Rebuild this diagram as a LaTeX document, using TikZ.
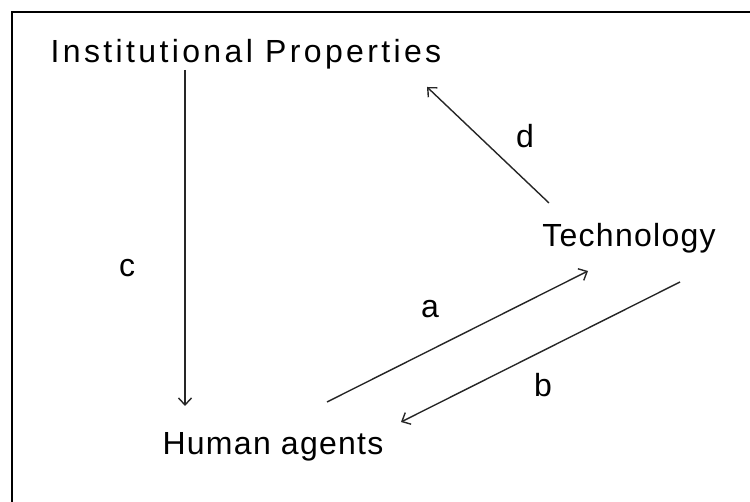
\documentclass[tikz,border=0pt]{standalone}
\usepackage{fontspec}
\usepackage{tikz}
\usetikzlibrary{calc, arrows.meta}
\newfontfamily\diagfont{Liberation Sans}[LetterSpace=4]
\newfontfamily\diagwidefont{Liberation Sans}[LetterSpace=10.5]

\begin{document}
\begin{tikzpicture}[
        x=1pt, y=1pt,
        term/.style={inner sep=0pt, anchor=base, font=\diagfont\fontsize{32}{38}\selectfont},
        wideterm/.style={term, font=\diagwidefont\fontsize{32}{38}\selectfont},
        lbl/.style={inner sep=0pt, anchor=base, font=\diagfont\fontsize{32}{38}\selectfont},
        arr/.style={-{Straight Barb[length=7pt, width=13pt]}, line width=1.4pt, draw=black!85}
    ]
    \useasboundingbox (0,0) rectangle (750,502);
    \draw[line width=2pt] (12,0) -- (12,490) -- (750,490);

    \node[wideterm] (inst) at (246,439) {Institutional Properties};
    \node[term] (tech) at (629,255) {Technology};
    \node[term] (human) at (273,47) {Human agents};

    \draw[arr] ($(inst.base)+(-61,-7)$) -- ($(human.base)+(-88,49)$);
    \draw[arr] ($(tech.base)+(-80,44)$) -- ($(inst.base)+(181,-24)$);
    \draw[arr] ($(human.base)+(54,53)$) -- ($(tech.base)+(-41,-24)$);
    \draw[arr] ($(tech.base)+(51,-35)$) -- ($(human.base)+(128,33)$);

    \node[lbl] (lc) at (127,225) {c};
    \node[lbl] (ld) at (525,354) {d};
    \node[lbl] (la) at (430,184) {a};
    \node[lbl] (lb) at (543,105) {b};

    \end{tikzpicture}
\end{document}
